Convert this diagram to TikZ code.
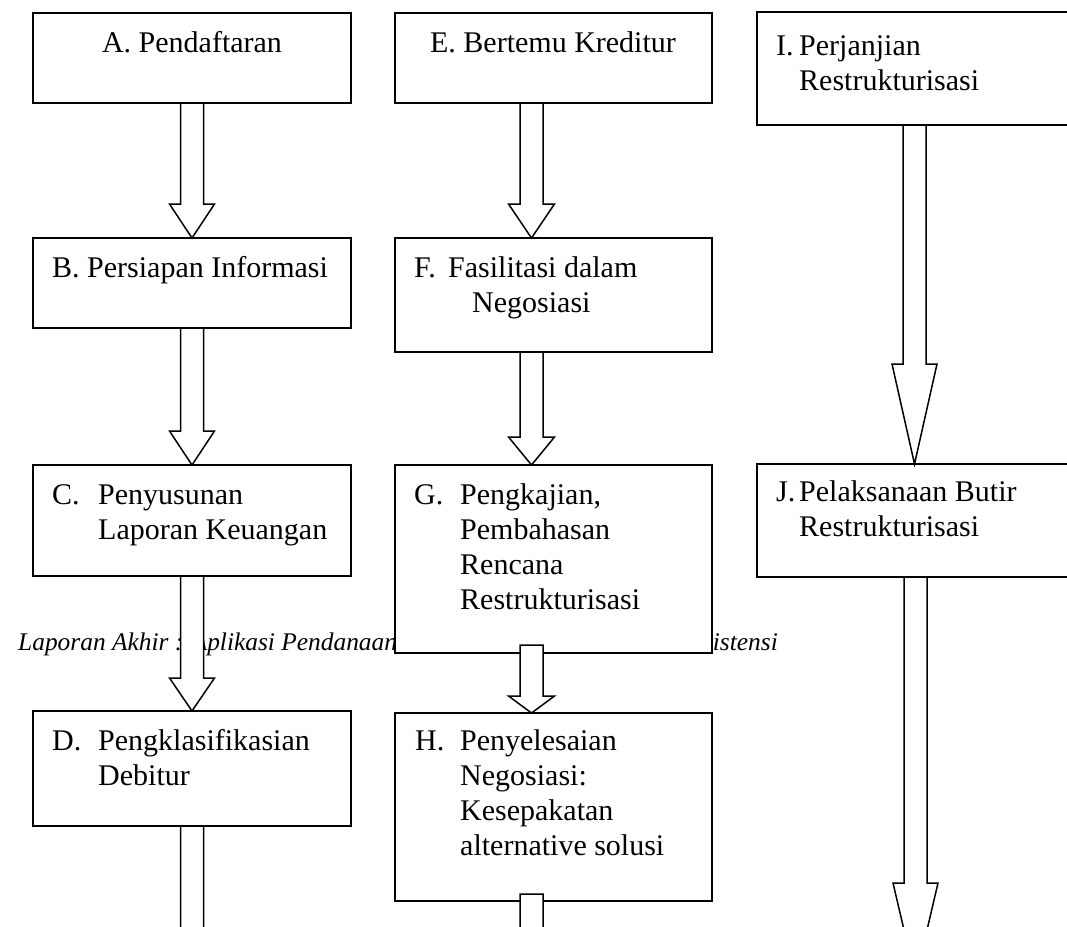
\documentclass[tikz,border=0pt]{standalone}
\usepackage{fontspec}
\setmainfont{Liberation Serif}
\usetikzlibrary{calc}
\tikzset{
  box/.style={draw, line width=1.5pt, fill=white, anchor=north west, inner sep=0pt, outer sep=0pt},
  txt/.style={anchor=base west, inner sep=0pt, font=\fontsize{30}{35}\selectfont},
  hdr/.style={anchor=base west, inner sep=0pt, font=\fontsize{25.4}{28}\selectfont\itshape},
  arr/.style={draw, line width=1.5pt, fill=white, line join=miter}
}
% #1 x of arrow axis, #2 start anchor, #3 end anchor, #4 raise of shaft top, #5 head length, #6 half head width
\newcommand\blockarr[6]{%
  \draw[arr] let \p1=(#2), \p2=(#3) in
    (#1pt-11.5pt,\y1+#4pt) -- (#1pt-11.5pt,\y2+#5pt) -- (#1pt-#6pt,\y2+#5pt) -- (#1pt,\y2)
    -- (#1pt+#6pt,\y2+#5pt) -- (#1pt+11.5pt,\y2+#5pt) -- (#1pt+11.5pt,\y1+#4pt) -- cycle;}
\begin{document}
\begin{tikzpicture}[x=1pt,y=-1pt]
\fill[white] (0,0) rectangle (1067,926);
\useasboundingbox (0,0) rectangle (1067,926);
\clip (0,0) rectangle (1067,926);
% running header behind the chart
\node[hdr] (hd1) at (18,650) {Laporan Akhir : Aplikasi Pendanaan};
\node[hdr, anchor=base east] (hd2) at (778,650) {Asistensi};
% boxes
\node[box, minimum width=318pt, minimum height=90pt]  (A) at (33,13) {};
\node[box, minimum width=318pt, minimum height=90pt]  (B) at (33,238) {};
\node[box, minimum width=318pt, minimum height=111pt] (C) at (33,465) {};
\node[box, minimum width=318pt, minimum height=115pt] (D) at (33,711) {};
\node[box, minimum width=317pt, minimum height=90pt]  (E) at (395,13) {};
\node[box, minimum width=317pt, minimum height=114pt] (F) at (395,238) {};
\node[box, minimum width=317pt, minimum height=188pt] (G) at (395,465) {};
\node[box, minimum width=317pt, minimum height=188pt] (H) at (395,713) {};
\node[box, minimum width=330pt, minimum height=113pt] (I) at (757,12) {};
\node[box, minimum width=330pt, minimum height=113pt] (J) at (757,464) {};
% texts
\node[txt, anchor=base] (tA) at (192,52) {A. Pendaftaran};
\node[txt] (tB) at (52,277) {B. Persiapan Informasi};
\node[txt] (tC) at (52,504) {\begin{tabular}[t]{@{}p{46pt}@{}l@{}}C.&Penyusunan\\&Laporan Keuangan\end{tabular}};
\node[txt] (tD) at (52,750) {\begin{tabular}[t]{@{}p{46pt}@{}l@{}}D.&Pengklasifikasian\\&Debitur\end{tabular}};
\node[txt, anchor=base] (tE) at (553,52) {E. Bertemu Kreditur};
\node[txt] (tF) at (414,277) {\begin{tabular}[t]{@{}p{34pt}@{}l@{}}F.&Fasilitasi dalam\\&\hspace{24pt}Negosiasi\end{tabular}};
\node[txt] (tG) at (414,504) {\begin{tabular}[t]{@{}p{46pt}@{}l@{}}G.&Pengkajian,\\&Pembahasan\\&Rencana\\&Restrukturisasi\end{tabular}};
\node[txt] (tH) at (415,750) {\begin{tabular}[t]{@{}p{45pt}@{}l@{}}H.&Penyelesaian\\&Negosiasi:\\&Kesepakatan\\&alternative solusi\end{tabular}};
\node[txt] (tI) at (776,55) {\begin{tabular}[t]{@{}p{23pt}@{}l@{}}I.&Perjanjian\\&Restrukturisasi\end{tabular}};
\node[txt] (tJ) at (776,501) {\begin{tabular}[t]{@{}p{23pt}@{}l@{}}J.&Pelaksanaan Butir\\&Restrukturisasi\end{tabular}};
% free ends below the page
\coordinate (Dend) at (192,990);
\coordinate (Hend) at (531.5,1000);
\coordinate (Jend) at (915.5,979);
% block arrows
\blockarr{192}{A.south}{B.north}{0}{34}{22.5}
\blockarr{192}{B.south}{C.north}{0}{34}{22.5}
\blockarr{192}{C.south}{D.north}{0}{33}{22.5}
\blockarr{192}{D.south}{Dend}{0}{34}{22.5}
\blockarr{531.5}{E.south}{F.north}{0}{34}{23}
\blockarr{531.5}{F.south}{G.north}{0}{28}{23}
\blockarr{531.5}{G.south}{H.north}{8}{17}{23}
\blockarr{531.5}{H.south}{Hend}{7}{34}{23}
\blockarr{914.5}{I.south}{J.north}{0}{100}{22.5}
\blockarr{915.5}{J.south}{Jend}{0}{96}{22.5}
\end{tikzpicture}
\end{document}
